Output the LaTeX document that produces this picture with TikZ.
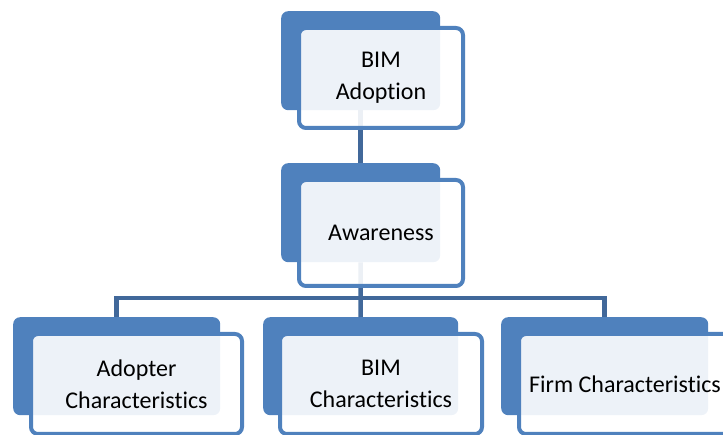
\documentclass[tikz,border=0pt]{standalone}
\usepackage{fontspec}
\setmainfont[Ligatures=NoCommon]{Carlito}
\usepackage{tikz}
\usetikzlibrary{calc}
\definecolor{boxblue}{HTML}{4F81BD}
\definecolor{linkblue}{HTML}{41689A}
\tikzset{
    backbox/.style={fill=boxblue, rounded corners=7pt, inner sep=0pt, anchor=north west},
    frontbox/.style={draw=boxblue, line width=4pt, fill=white, fill opacity=0.9,
      text opacity=1, rounded corners=7pt, inner sep=0pt, anchor=north west,
      align=center, font=\fontsize{24}{32}\selectfont},
    link/.style={draw=linkblue, line width=4.5pt}
}

\begin{document}
\begin{tikzpicture}[x=1pt,y=-1pt]
    \useasboundingbox (0,0) rectangle (723,435);
    % back boxes
    \node[backbox, minimum width=159pt, minimum height=99pt] (adoptB) at (281,11) {};
    \node[backbox, minimum width=159pt, minimum height=99pt] (awareB) at (281,163) {};
    \node[backbox, minimum width=207pt, minimum height=98pt] (adopterB) at (13,317) {};
    \node[backbox, minimum width=195pt, minimum height=98pt] (bimB) at (263,317) {};
    \node[backbox, minimum width=207pt, minimum height=98pt] (firmB) at (501,317) {};
    % connectors
    \coordinate (bar) at (360.5,298);
    \draw[link] (adoptB.south) -- (awareB.north);
    \draw[link] (awareB.south) -- (bar);
    \draw[link] (adopterB.north) |- (bar) -| (firmB.north);
    \draw[link] (bar) -- (bimB.north);
    % front boxes
    \node[frontbox, minimum width=164pt, minimum height=100pt] (adopt) at (297,26) {BIM\\Adoption};
    \node[frontbox, minimum width=164pt, minimum height=106pt] (aware) at (297,178) {Awareness};
    \node[frontbox, minimum width=211pt, minimum height=100pt] (adopter) at (29,332) {Adopter\\Characteristics};
    \node[frontbox, minimum width=202pt, minimum height=100pt] (bim) at (278,332) {BIM\\Characteristics};
    \node[frontbox, minimum width=212pt, minimum height=100pt] (firm) at (517,332) {Firm Characteristics};
\end{tikzpicture}
\end{document}
